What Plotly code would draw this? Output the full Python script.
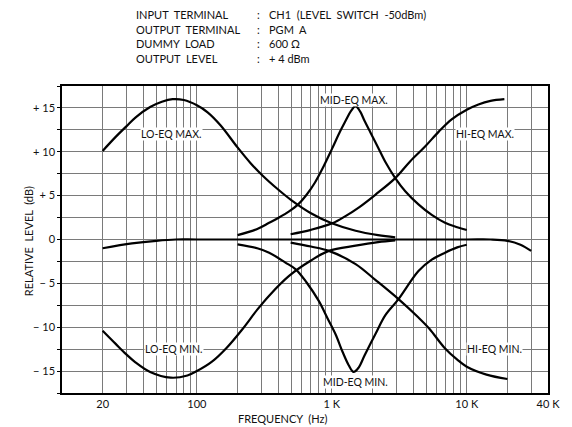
import plotly.graph_objects as go
import math

# ---------------- data ----------------
lo_max_f = [20, 25, 30, 35, 45, 55, 66, 80, 100, 120, 150, 200, 250, 306, 400, 500, 700, 1000, 1500, 2200, 2950]
lo_max_db = [10.1, 11.7, 12.9, 13.9, 15.1, 15.7, 16.0, 15.9, 15.3, 14.5, 13.0, 10.5, 8.7, 7.3, 5.7, 4.5, 3.0, 1.85, 1.0, 0.5, 0.25]

lo_min_f = [20, 25, 30, 35, 45, 64, 85, 100, 130, 165, 218, 280, 343, 482, 700, 950, 1500, 2200, 2950]
lo_min_db = [-10.4, -11.9, -13.1, -14.0, -15.1, -15.75, -15.5, -15.0, -13.9, -12.4, -10.2, -8.0, -6.4, -4.15, -2.4, -1.3, -0.7, -0.3, -0.1]

mid_max_f = [200, 280, 343, 406, 482, 563, 650, 750, 847, 1000, 1150, 1262, 1380, 1500, 1620, 1750,
             1932, 2200, 2500, 2950, 3500, 4385, 5500, 6900, 8500, 10000]
mid_max_db = [0.5, 1.2, 1.9, 2.5, 3.2, 4.0, 5.1, 6.5, 8.0, 10.3, 12.3, 13.5, 14.6, 15.2, 14.6, 13.5,
              12.2, 10.5, 8.8, 7.0, 5.5, 4.0, 2.8, 1.9, 1.4, 1.08]

mid_min_f = [200, 280, 343, 450, 540, 650, 800, 930, 1065, 1200, 1330, 1450, 1580, 1750, 2100, 2500,
             3120, 4385, 5500, 6900, 8500, 10000]
mid_min_db = [-0.55, -1.0, -1.5, -2.6, -3.4, -4.9, -7.0, -9.0, -10.8, -12.8, -14.3, -15.1, -14.6, -13.2,
              -10.8, -8.6, -6.8, -3.6, -2.3, -1.5, -0.9, -0.6]

hi_max_f = [495, 700, 1005, 1262, 1600, 2100, 2950, 3800, 4910, 6200, 7730, 10000, 12200, 15000, 19000]
hi_max_db = [0.6, 1.1, 1.84, 2.67, 3.7, 5.1, 7.0, 8.9, 10.6, 12.3, 13.7, 14.8, 15.4, 15.8, 16.0]

hi_min_f = [495, 700, 950, 1500, 2100, 3120, 4385, 5300, 6800, 8500, 10000, 14000, 20000]
hi_min_db = [-0.35, -0.8, -1.3, -2.8, -4.6, -6.8, -8.9, -10.2, -12.3, -13.7, -14.5, -15.4, -15.9]

flat_f = [20, 33, 50, 70, 100, 1000, 10000, 15000, 20000, 25000, 30000]
flat_db = [-1.0, -0.45, -0.15, 0.0, 0.0, 0.0, 0.0, 0.0, -0.15, -0.6, -1.3]

x_grid = [m * d for d in (10, 100, 1000, 10000) for m in range(1, 10)] + [40000]
x_grid = [v for v in x_grid if v <= 40000]
x_labels = {20: "20", 100: "100", 1000: "1 K", 10000: "10 K", 40000: "40 K"}

y_grid = [-17.5, -15, -12.5, -10, -7.5, -5, -2.5, 0, 2.5, 5, 7.5, 10, 12.5, 15, 17.5]
y_labels = {15: "+ 15", 10: "+ 10", 5: "+ 5", 0: "0", -5: "\u2212 5", -10: "\u2212 10", -15: "\u2212 15"}

header_keys = ["INPUT  TERMINAL", "OUTPUT  TERMINAL", "DUMMY  LOAD", "OUTPUT  LEVEL"]
header_vals = ["CH1  (LEVEL  SWITCH  -50dBm)", "PGM  A", "600 \u03a9", "+ 4 dBm"]

curve_labels = [
    ("LO-EQ MAX.", 65, 12.0),
    ("MID-EQ MAX.", 1450, 15.9),
    ("HI-EQ MAX.", 13600, 12.0),
    ("LO-EQ MIN.", 68, -12.5),
    ("MID-EQ MIN.", 1500, -16.2),
    ("HI-EQ MIN.", 16000, -12.5),
]

# ---------------- figure ----------------
FONT = "Lato, 'Open Sans', sans-serif"
fig = go.Figure()
for fx, fy in [(lo_max_f, lo_max_db), (lo_min_f, lo_min_db), (mid_max_f, mid_max_db),
               (mid_min_f, mid_min_db), (hi_max_f, hi_max_db), (hi_min_f, hi_min_db),
               (flat_f, flat_db)]:
    fig.add_trace(go.Scatter(x=fx, y=fy, mode="lines",
                             line=dict(color="black", width=2.2, shape="spline", smoothing=1.0),
                             showlegend=False, hoverinfo="skip"))

for txt, fx, fy in curve_labels:
    fig.add_annotation(x=math.log10(fx), y=fy, text=txt, showarrow=False,
                       font=dict(family=FONT, size=10.5, color="#111"),
                       bgcolor="white", borderpad=0)

# page has an 8px body margin, so the figure is 8px smaller than the window
OFF = 8
L, R, T, B, W, H = 54, 22, 78, 34, 564, 419
pw, ph = W - L - R, H - T - B

def px(x):
    return (x - OFF - L) / pw

def py(y):
    return (H - B - (y - OFF)) / ph

for i, (k, v) in enumerate(zip(header_keys, header_vals)):
    yy = 15 + i * 14.4
    fig.add_annotation(xref="paper", yref="paper", x=px(134), y=py(yy), text=k,
                       xanchor="left", yanchor="middle", showarrow=False,
                       font=dict(family=FONT, size=11, color="#111"))
    fig.add_annotation(xref="paper", yref="paper", x=px(256), y=py(yy), text=":",
                       xanchor="left", yanchor="middle", showarrow=False,
                       font=dict(family=FONT, size=11, color="#111"))
    fig.add_annotation(xref="paper", yref="paper", x=px(268), y=py(yy), text=v,
                       xanchor="left", yanchor="middle", showarrow=False,
                       font=dict(family=FONT, size=11, color="#111"))

fig.add_annotation(xref="paper", yref="paper", x=px(28), y=py(241), text="RELATIVE  LEVEL  (dB)",
                   textangle=-90, showarrow=False, xanchor="center", yanchor="middle",
                   font=dict(family=FONT, size=11, color="#111"))
fig.add_annotation(xref="paper", yref="paper", x=px(284), y=py(418), text="FREQUENCY  (Hz)",
                   showarrow=False, xanchor="center", yanchor="middle",
                   font=dict(family=FONT, size=11, color="#111"))

fig.update_xaxes(type="log", range=[1, math.log10(40000)],
                 tickvals=x_grid, ticktext=[x_labels.get(v, "") for v in x_grid],
                 showgrid=True, gridcolor="#7a7a7a", gridwidth=1,
                 showline=True, linecolor="black", linewidth=1.5, mirror=True,
                 ticks="", tickfont=dict(family=FONT, size=11, color="#111"),
                 zeroline=False)
fig.update_yaxes(range=[-17.5, 17.5], tickvals=y_grid,
                 ticktext=[y_labels.get(v, "") for v in y_grid],
                 showgrid=True, gridcolor="#7a7a7a", gridwidth=1,
                 showline=True, linecolor="black", linewidth=1.5, mirror=True,
                 ticks="outside", ticklen=3, tickcolor="black",
                 tickfont=dict(family=FONT, size=11, color="#111"),
                 zeroline=False)

fig.update_layout(width=W, height=H, margin=dict(l=L, r=R, t=T, b=B),
                  paper_bgcolor="white", plot_bgcolor="white", showlegend=False)

fig.write_html("out.html")
